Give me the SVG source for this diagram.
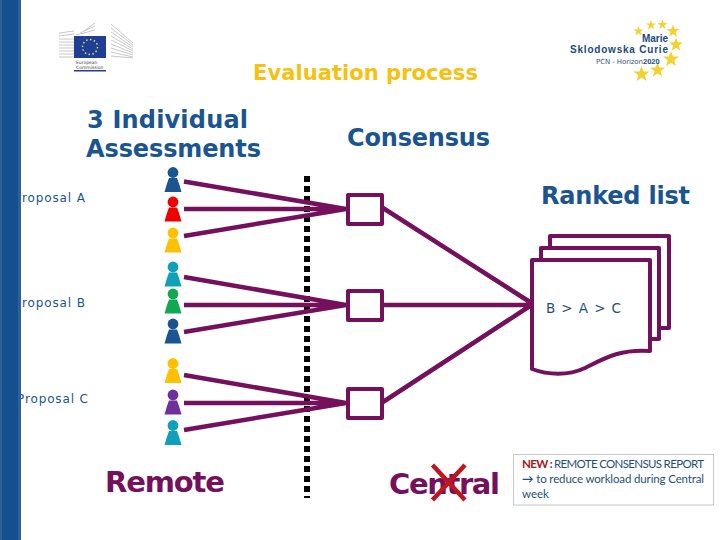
<svg xmlns="http://www.w3.org/2000/svg" xmlns:xlink="http://www.w3.org/1999/xlink" width="720" height="540" viewBox="0 0 720 540">
<style>
text{font-family:"DejaVu Sans",Verdana,sans-serif}
.h{font-weight:700;font-size:24px;fill:#1a5590}
.p{font-size:12px;fill:#1a5590;letter-spacing:1px}
.r{font-weight:700;font-size:29px;fill:#74105c}
.c{fill:#fff;stroke:#74105c;stroke-width:4;stroke-linejoin:round}
.l{stroke:#74105c;stroke-width:4.500;fill:none}
.n{font-family:Lato,"Open Sans",sans-serif;font-size:11.500px;fill:#1f4f78}
.g{stroke:#c8c8c8;stroke-width:1}
.m{font-family:"Liberation Sans",Arial,sans-serif;font-weight:700;fill:#1a4a80}
</style>
<defs>
<g id="person"><circle cx="0" cy="0" r="5.400"/><path d="M-4 5.500H4L6 11L8.500 19.500H-8.500L-6 11Z"/></g>
<polygon id="star" points="0,-5 1.300,-1.600 5,-1.500 2,0.800 3.100,4.400 0,2.300 -3.100,4.400 -2,0.800 -5,-1.500 -1.300,-1.600"/>
</defs>
<rect width="720" height="540" fill="#fff"/>

<g id="ec-logo">
<g class="g">
<path d="M59 33L74 31M59 36L74 34M59 39H74M59 42H74M59 45H74M59 48H74M59 51H74M59 54H74M59 57H74"/>
<path d="M84 31L95 23M80 33L95 26M76 35L95 30"/>
<path d="M111 24L133 43M111 28L133 45M111 32L133 47M111 36L133 49M111 40L133 51M111 44L133 53M111 48L133 55M111 52L133 57M111 56L133 58"/>
</g>
<rect x="74" y="36" width="32" height="22" fill="#1f3f94"/>
<circle cx="90" cy="47" r="7.500" fill="none" stroke="#e8d870" stroke-width="1.500" stroke-dasharray="1.500 2.400"/>
<text x="76" y="63.500" font-size="4.500" fill="#444">European</text>
<text x="76" y="68.500" font-size="4.500" fill="#444">Commission</text>
<rect x="74" y="70" width="32" height="1.500" fill="#1f3f94"/>
</g>

<g id="msca-logo" fill="#f2d230">
<use xlink:href="#star" x="638.500" y="31"/>
<use xlink:href="#star" x="651" y="25"/>
<use xlink:href="#star" x="662.500" y="24.500"/>
<use xlink:href="#star" transform="translate(673 31) scale(1.300)"/>
<use xlink:href="#star" transform="translate(676 44.500) scale(1.400)"/>
<use xlink:href="#star" transform="translate(671 59) scale(1.600)"/>
<use xlink:href="#star" transform="translate(657.500 70) scale(1.500)"/>
<use xlink:href="#star" transform="translate(641.500 74) scale(1.600)"/>
<text class="m" x="668" y="42" font-size="10" text-anchor="end">Marie</text>
<text class="m" x="570" y="52.500" font-size="10" textLength="98">Sklodowska Curie</text>
<text x="596" y="63.500" font-size="7" fill="#33577f" textLength="47">PCN - Horizon</text>
<text class="m" x="643" y="63.500" font-size="7.500">2020</text>
</g>

<text id="title" x="253" y="80" font-size="21" font-weight="700" fill="#f5c211" textLength="225" lengthAdjust="spacingAndGlyphs">Evaluation process</text>
<g id="heading-individual"><text class="h" x="87" y="128" textLength="161">3 Individual</text><text class="h" x="86" y="157" textLength="175">Assessments</text></g>
<text id="heading-consensus" class="h" x="347" y="146" textLength="143">Consensus</text>
<text id="heading-ranked" class="h" x="541" y="204" textLength="149">Ranked list</text>

<g id="label-a"><text class="p" x="14" y="202" textLength="72">Proposal A</text></g>
<g id="label-b"><text class="p" x="14" y="307" textLength="72">Proposal B</text></g>
<g id="label-c"><text class="p" x="17" y="403" textLength="72">Proposal C</text></g>

<path id="dashed-divider" d="M307 176V498" stroke="#000" stroke-width="6" stroke-dasharray="6 4" fill="none"/>

<g id="connectors">
<path class="l" d="M184 181.500L346 209M184 209H346M184 236L346 209"/>
<path class="l" d="M184 277L346 305M184 305H346M184 332L346 305"/>
<path class="l" d="M184 375L346 403M184 403H346M184 430L346 403"/>
<path class="l" d="M383 208L533 304M383 305H533M383 402L533 304"/>
</g>

<g id="people">
<use id="p1" xlink:href="#person" x="173" y="172.500" fill="#1a5590"/>
<use id="p2" xlink:href="#person" x="173" y="202" fill="#ee0000"/>
<use id="p3" xlink:href="#person" x="173" y="233" fill="#ffc000"/>
<use id="p4" xlink:href="#person" x="173" y="267" fill="#10a0bc"/>
<use id="p5" xlink:href="#person" x="173" y="294" fill="#10a850"/>
<use id="p6" xlink:href="#person" x="173" y="324" fill="#1a5590"/>
<use id="p7" xlink:href="#person" x="173" y="363.500" fill="#ffc000"/>
<use id="p8" xlink:href="#person" x="173" y="395" fill="#70309c"/>
<use id="p9" xlink:href="#person" x="173" y="425.500" fill="#10a0bc"/>
</g>

<g id="box-a"><rect class="c" x="348" y="195" width="34" height="29"/></g>
<g id="box-b"><rect class="c" x="348" y="291" width="34" height="29"/></g>
<g id="box-c"><rect class="c" x="348" y="389" width="34" height="29"/></g>

<g id="ranked-document">
<path class="c" d="M550 248V236H669V328H659"/>
<path class="c" d="M541 260V248H659V339H650"/>
<path class="c" d="M532 260H650V351C620 349 605 358 585 368C568 376 548 375 532 369Z"/>
<text x="546" y="313" font-size="13.500" fill="#1f4f78" letter-spacing="1" textLength="76">B &gt; A &gt; C</text>
</g>

<text id="remote" class="r" x="105" y="492" textLength="120">Remote</text>
<g id="central">
<text class="r" x="389" y="494" textLength="111">Central</text>
<path d="M432.500 465L465 500M465 465L432.500 500" stroke="#c0141e" stroke-width="4.500" fill="none"/>
</g>

<g id="note">
<rect x="513.500" y="454.500" width="200" height="50.500" fill="#fff" stroke="#c4c8cc" stroke-width="1"/>
<text class="n" x="522" y="468" textLength="182"><tspan fill="#a01818" font-weight="700">NEW : </tspan>REMOTE CONSENSUS REPORT</text>
<text class="n" x="522" y="483" textLength="182"><tspan font-weight="700">→</tspan> to reduce workload during Central</text>
<text class="n" x="522" y="498">week</text>
</g>

<g id="sidebar"><rect x="0" y="0" width="21" height="540" fill="#2f5f96"/><rect x="2" y="0" width="16" height="540" fill="#12508f"/></g>
</svg>
